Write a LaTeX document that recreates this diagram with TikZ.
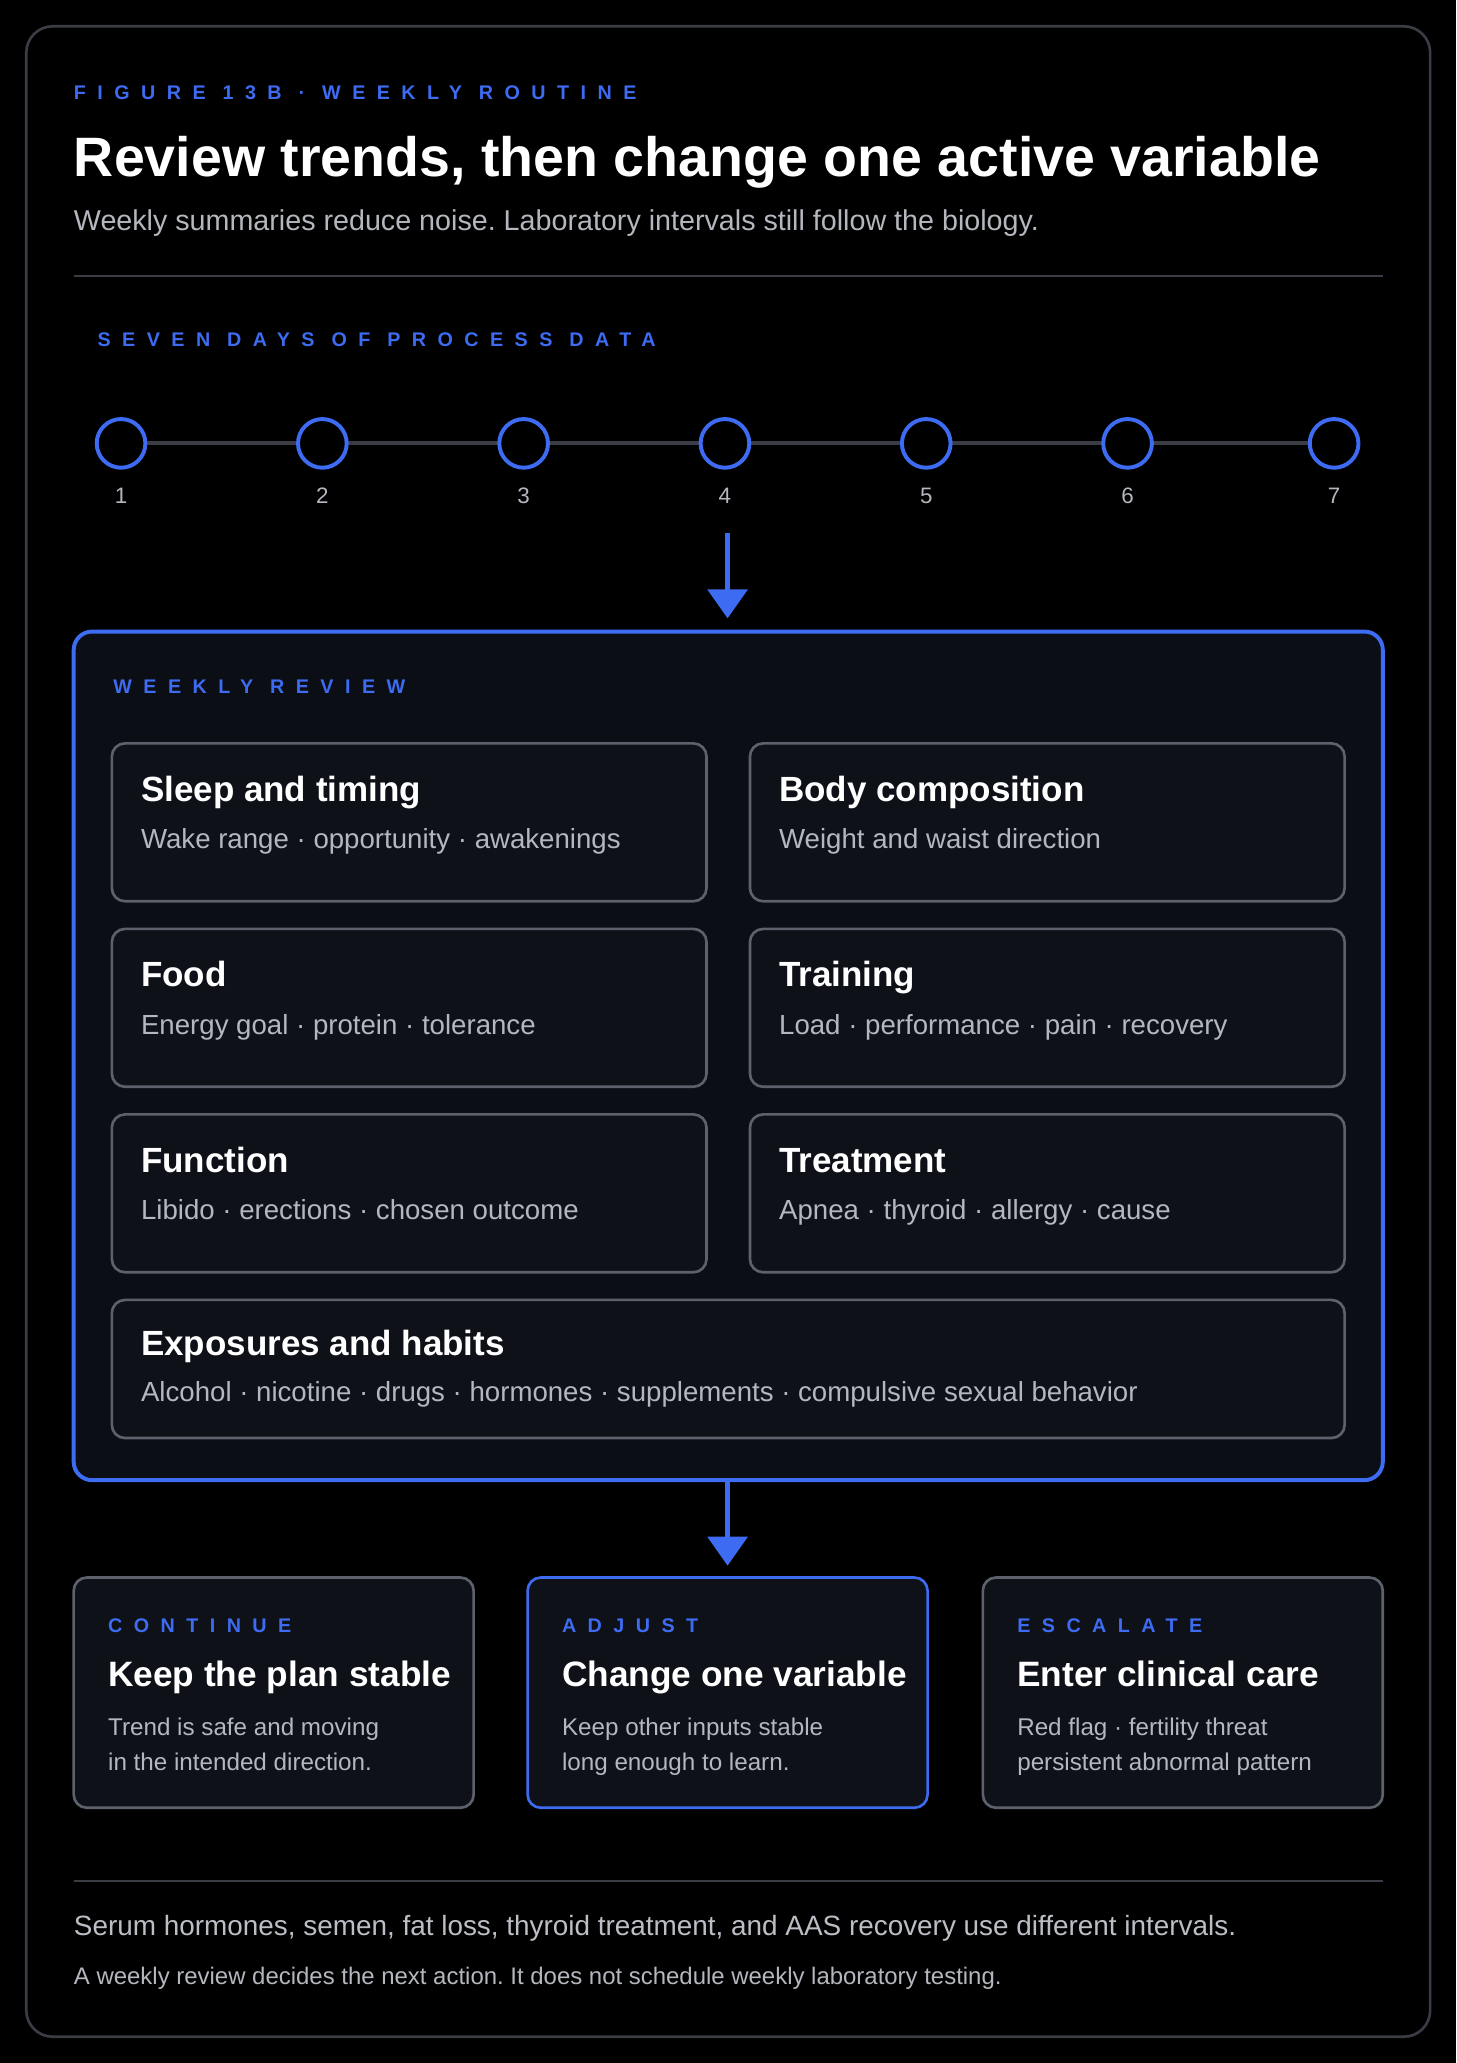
\documentclass[tikz,border=0pt]{standalone}
\usepackage{fontspec}
\setmainfont{Liberation Sans}
\usetikzlibrary{arrows.meta}
\definecolor{blu}{HTML}{3D6BF2}
\definecolor{frm}{HTML}{3A3D45}
\definecolor{crd}{HTML}{5C616B}
\definecolor{cfill}{HTML}{0E1118}
\definecolor{rfill}{HTML}{0B0E15}
\definecolor{gtx}{HTML}{B4B7BE}
\newcommand{\kick}[1]{{\fontsize{15}{18}\selectfont\bfseries\addfontfeature{LetterSpace=58}#1}}
\frenchspacing
\begin{document}
\begin{tikzpicture}[x=1pt,y=-1pt,inner sep=0pt,
 card/.style={draw=crd,line width=2pt,fill=cfill,rounded corners=10pt},
 ctitle/.style={anchor=base west,text=white,font=\fontsize{26.6}{30}\selectfont\bfseries},
 btitle/.style={anchor=base west,text=white,font=\fontsize{26.8}{30}\selectfont\bfseries},
 csub/.style={anchor=base west,text=gtx,font=\fontsize{21}{24}\selectfont},
 kk/.style={anchor=base west,text=blu},
 dot/.style={circle,draw=blu,line width=3pt,fill=black,minimum size=37pt,inner sep=0pt},
 num/.style={text=gtx,font=\fontsize{17}{20}\selectfont},
 arr/.style={draw=blu,line width=3.5pt,-{Triangle[length=22pt,width=30pt]}}]
\fill[black] (0,0) rectangle (1107,1568);
\useasboundingbox (0,0) rectangle (1107,1568);
\draw[frm,line width=2pt,rounded corners=20pt] (20,20) rectangle (1087,1548);
\node[kk] (fig) at (56,76) {\kick{FIGURE 13B · WEEKLY ROUTINE}};
\node[anchor=base west,text=white,font=\fontsize{42.2}{46}\selectfont\bfseries] (title) at (56,134) {Review trends, then change one active variable};
\node[csub,font=\fontsize{21.8}{24}\selectfont] (sub) at (56,175) {Weekly summaries reduce noise. Laboratory intervals still follow the biology.};
\draw[frm,line width=1.5pt] (56,210) -- (1051,210);
\node[kk] (seven) at (74,263) {\kick{SEVEN DAYS OF PROCESS DATA}};
\draw[frm,line width=3pt] (92,337) -- (1014,337);
\foreach \i/\x in {1/92,2/245,3/398,4/551,5/704,6/857,7/1014}{
 \node[dot] (d\i) at (\x,337) {};
 \node[num] (n\i) at (\x,377) {\i};}
\coordinate (a1s) at (553,405); \coordinate (a1e) at (553,470);
\draw[arr] (a1s) -- (a1e);
\draw[blu,line width=3pt,fill=rfill,rounded corners=14pt] (56,480) rectangle (1051,1125);
\node[kk] (wr) at (86,527) {\kick{WEEKLY REVIEW}};
\foreach \n/\x/\y/\t/\s in {
 c1/85/565/Sleep and timing/Wake range · opportunity · awakenings,
 c2/570/565/Body composition/Weight and waist direction,
 c3/85/706/Food/Energy goal · protein · tolerance,
 c4/570/706/Training/Load · performance · pain · recovery,
 c5/85/847/Function/Libido · erections · chosen outcome,
 c6/570/847/Treatment/Apnea · thyroid · allergy · cause}{
 \draw[card] (\x,\y) rectangle ++(452,120);
 \node[ctitle] (\n t) at (\x+22,\y+44) {\t};
 \node[csub] (\n s) at (\x+22,\y+80) {\s};}
\draw[card] (85,988) rectangle (1022,1093);
\node[ctitle] (c7t) at (107,1030) {Exposures and habits};
\node[csub] (c7s) at (107,1065) {Alcohol · nicotine · drugs · hormones · supplements · compulsive sexual behavior};
\coordinate (a2s) at (553,1125); \coordinate (a2e) at (553,1190);
\draw[arr] (a2s) -- (a2e);
\foreach \n/\x/\k/\t/\la/\lb/\c in {
 b1/56/CONTINUE/Keep the plan stable/Trend is safe and moving/in the intended direction./crd,
 b2/401/ADJUST/Change one variable/Keep other inputs stable/long enough to learn./blu,
 b3/747/ESCALATE/Enter clinical care/Red flag · fertility threat/persistent abnormal pattern/crd}{
 \draw[card,draw=\c,line width=\ifx\c blu 3pt\else 2pt\fi] (\x,1199) rectangle ++(304,175);
 \node[kk] (\n k) at (\x+26,1241) {\kick{\k}};
 \node[btitle] (\n t) at (\x+26,1282) {\t};
 \node[csub,font=\fontsize{18.4}{21}\selectfont] (\n a) at (\x+26,1319) {\la};
 \node[csub,font=\fontsize{18.4}{21}\selectfont] (\n b) at (\x+26,1346) {\lb};}
\draw[frm,line width=1.5pt] (56,1430) -- (1051,1430);
\node[csub,text=gtx!90!white,font=\fontsize{21.2}{24}\selectfont] (f1) at (56,1471) {Serum hormones, semen, fat loss, thyroid treatment, and AAS recovery use different intervals.};
\node[csub,font=\fontsize{18.2}{20}\selectfont] (f2) at (56,1508) {A weekly review decides the next action. It does not schedule weekly laboratory testing.};
\end{tikzpicture}
\end{document}
